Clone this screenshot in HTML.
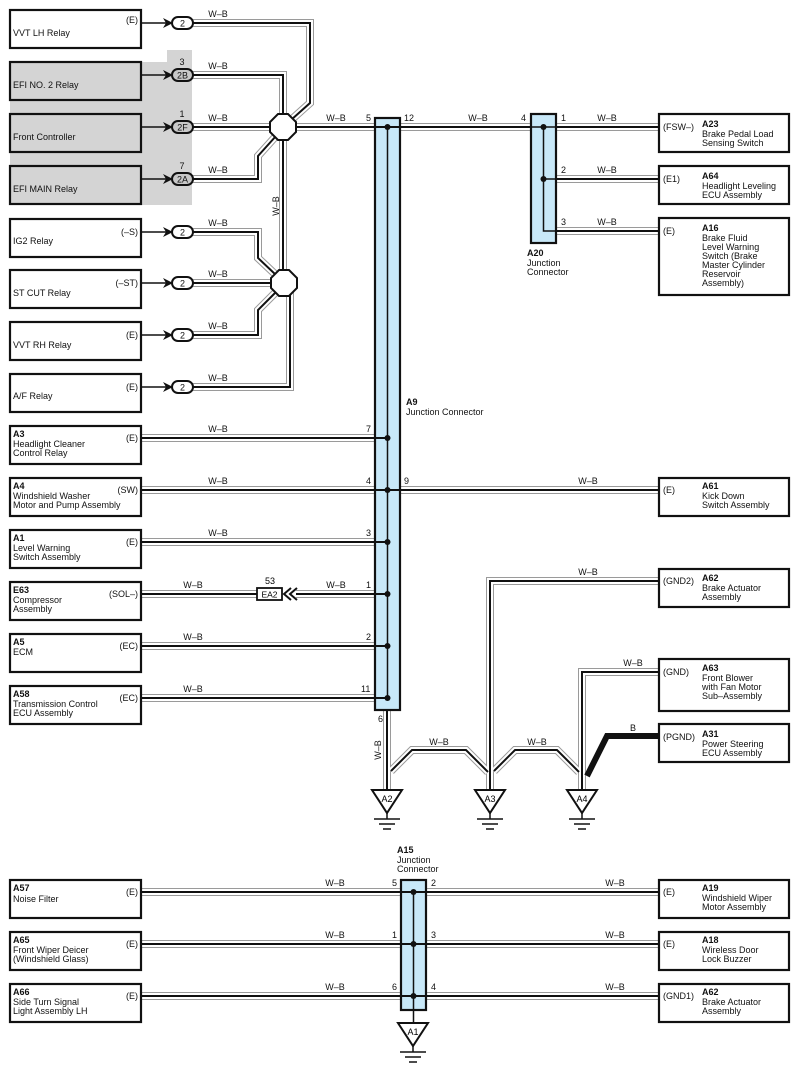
<!DOCTYPE html>
<html><head><meta charset="utf-8"><style>
html,body{margin:0;padding:0;background:#fff;}
svg{display:block;font-family:"Liberation Sans",Arial,sans-serif;font-size:9px;}
.g{fill:none;stroke:#9a9a9a;stroke-width:8;}
.w{fill:none;stroke:#fff;stroke-width:6;}
.k{fill:none;stroke:#111;stroke-width:2;}
.box{fill:#fff;stroke:#111;stroke-width:2.2;}
.gbox{fill:#d4d4d4;stroke:#111;stroke-width:2.2;}
.jc{fill:#c8e8f8;stroke:#111;stroke-width:2.2;}
b{font-weight:bold}
.bd{font-weight:bold}
</style></head><body>
<svg width="800" height="1076" viewBox="0 0 800 1076" xmlns="http://www.w3.org/2000/svg">
<defs>
<path id="p1" d="M192,23 H310 V103 L291,120"/>
<path id="p2" d="M192,75 H283 V115"/>
<path id="p3" d="M192,127 H375"/>
<path id="p4" d="M192,179 H258 V156 L276,136"/>
<path id="p5" d="M283,140 V271"/>
<path id="p6" d="M192,232 H258 V258 L276,275"/>
<path id="p7" d="M192,283 H272"/>
<path id="p8" d="M192,335 H258 V310 L276,292"/>
<path id="p9" d="M192,387 H290 V292"/>
<path id="p10" d="M400,127 H531"/>
<path id="p11" d="M556,127 H659"/>
<path id="p12" d="M556,179 H659"/>
<path id="p13" d="M556,231 H659"/>
<path id="q1" d="M141,438 H375"/>
<path id="q2" d="M141,490 H375"/>
<path id="q3" d="M141,542 H375"/>
<path id="q4" d="M141,594 H258"/>
<path id="q5" d="M296,594 H375"/>
<path id="q6" d="M141,646 H375"/>
<path id="q7" d="M141,698 H375"/>
<path id="q8" d="M400,490 H659"/>
<path id="q9" d="M387,710 V790"/>
<path id="q10" d="M659,581 H490 V790"/>
<path id="q11" d="M659,672 H582 V790"/>
<path id="q12" d="M391,771 L412,750 H466 L488,772"/>
<path id="q13" d="M494,771 L515,750 H557 L579,772"/>
<path id="r1" d="M141,892 H401"/>
<path id="r2" d="M141,944 H401"/>
<path id="r3" d="M141,996 H401"/>
<path id="r4" d="M426,892 H659"/>
<path id="r5" d="M426,944 H659"/>
<path id="r6" d="M426,996 H659"/>
</defs>

<!-- gray background region -->
<polygon points="167,50 192,50 192,205 10,205 10,62 167,62" fill="#d4d4d4"/>

<!-- wires -->
<g class="g"><use href="#p1"/><use href="#p2"/><use href="#p3"/><use href="#p4"/><use href="#p5"/><use href="#p6"/><use href="#p7"/><use href="#p8"/><use href="#p9"/><use href="#p10"/><use href="#p11"/><use href="#p12"/><use href="#p13"/><use href="#q1"/><use href="#q2"/><use href="#q3"/><use href="#q4"/><use href="#q5"/><use href="#q6"/><use href="#q7"/><use href="#q8"/><use href="#q9"/><use href="#q10"/><use href="#q11"/><use href="#q12"/><use href="#q13"/><use href="#r1"/><use href="#r2"/><use href="#r3"/><use href="#r4"/><use href="#r5"/><use href="#r6"/></g>
<g class="w"><use href="#p1"/><use href="#p2"/><use href="#p3"/><use href="#p4"/><use href="#p5"/><use href="#p6"/><use href="#p7"/><use href="#p8"/><use href="#p9"/><use href="#p10"/><use href="#p11"/><use href="#p12"/><use href="#p13"/><use href="#q1"/><use href="#q2"/><use href="#q3"/><use href="#q4"/><use href="#q5"/><use href="#q6"/><use href="#q7"/><use href="#q8"/><use href="#q9"/><use href="#q10"/><use href="#q11"/><use href="#q12"/><use href="#q13"/><use href="#r1"/><use href="#r2"/><use href="#r3"/><use href="#r4"/><use href="#r5"/><use href="#r6"/></g>
<g class="k"><use href="#p1"/><use href="#p2"/><use href="#p3"/><use href="#p4"/><use href="#p5"/><use href="#p6"/><use href="#p7"/><use href="#p8"/><use href="#p9"/><use href="#p10"/><use href="#p11"/><use href="#p12"/><use href="#p13"/><use href="#q1"/><use href="#q2"/><use href="#q3"/><use href="#q4"/><use href="#q5"/><use href="#q6"/><use href="#q7"/><use href="#q8"/><use href="#q9"/><use href="#q10"/><use href="#q11"/><use href="#q12"/><use href="#q13"/><use href="#r1"/><use href="#r2"/><use href="#r3"/><use href="#r4"/><use href="#r5"/><use href="#r6"/></g>

<!-- thick B wire -->
<path d="M659,736 H607 L587,776" fill="none" stroke="#111" stroke-width="6"/>

<!-- octagons -->
<polygon points="278,114 288,114 296,122 296,132 288,140 278,140 270,132 270,122" fill="#fff" stroke="#111" stroke-width="2"/>
<polygon points="279,270 289,270 297,278 297,288 289,296 279,296 271,288 271,278" fill="#fff" stroke="#111" stroke-width="2"/>

<!-- left top boxes -->
<g>
<rect class="box" x="10" y="10" width="131" height="38"/>
<rect class="gbox" x="10" y="62" width="131" height="38"/>
<rect class="gbox" x="10" y="114" width="131" height="38"/>
<rect class="gbox" x="10" y="166" width="131" height="38"/>
<rect class="box" x="10" y="219" width="131" height="38"/>
<rect class="box" x="10" y="270" width="131" height="38"/>
<rect class="box" x="10" y="322" width="131" height="38"/>
<rect class="box" x="10" y="374" width="131" height="38"/>
<rect class="box" x="10" y="426" width="131" height="38"/>
<rect class="box" x="10" y="478" width="131" height="38"/>
<rect class="box" x="10" y="530" width="131" height="38"/>
<rect class="box" x="10" y="582" width="131" height="38"/>
<rect class="box" x="10" y="634" width="131" height="38"/>
<rect class="box" x="10" y="686" width="131" height="38"/>
<rect class="box" x="10" y="880" width="131" height="38"/>
<rect class="box" x="10" y="932" width="131" height="38"/>
<rect class="box" x="10" y="984" width="131" height="38"/>
</g>
<!-- right boxes -->
<g>
<rect class="box" x="659" y="114" width="130" height="38"/>
<rect class="box" x="659" y="166" width="130" height="38"/>
<rect class="box" x="659" y="218" width="130" height="77"/>
<rect class="box" x="659" y="478" width="130" height="38"/>
<rect class="box" x="659" y="569" width="130" height="38"/>
<rect class="box" x="659" y="659" width="130" height="52"/>
<rect class="box" x="659" y="724" width="130" height="38"/>
<rect class="box" x="659" y="880" width="130" height="38"/>
<rect class="box" x="659" y="932" width="130" height="38"/>
<rect class="box" x="659" y="984" width="130" height="38"/>
</g>

<!-- relay connector lines + chevrons + ovals -->
<g stroke="#111" stroke-width="1.5" fill="none">
<path d="M141,23H166M141,75H166M141,127H166M141,179H166M141,232H166M141,283H166M141,335H166M141,387H166"/>
</g>
<g fill="#111">
<path d="M163,18 L173,23 L163,28 L166,23Z"/>
<path d="M163,70 L173,75 L163,80 L166,75Z"/>
<path d="M163,122 L173,127 L163,132 L166,127Z"/>
<path d="M163,174 L173,179 L163,184 L166,179Z"/>
<path d="M163,227 L173,232 L163,237 L166,232Z"/>
<path d="M163,278 L173,283 L163,288 L166,283Z"/>
<path d="M163,330 L173,335 L163,340 L166,335Z"/>
<path d="M163,382 L173,387 L163,392 L166,387Z"/>
</g>
<g fill="#fff" stroke="#111" stroke-width="2">
<rect x="172" y="17" width="21" height="12" rx="6"/>
<rect x="172" y="69" width="21" height="12" rx="6" fill="#c8c8c8"/>
<rect x="172" y="121" width="21" height="12" rx="6" fill="#c8c8c8"/>
<rect x="172" y="173" width="21" height="12" rx="6" fill="#c8c8c8"/>
<rect x="172" y="226" width="21" height="12" rx="6"/>
<rect x="172" y="277" width="21" height="12" rx="6"/>
<rect x="172" y="329" width="21" height="12" rx="6"/>
<rect x="172" y="381" width="21" height="12" rx="6"/>
</g>
<g text-anchor="middle" font-size="9" fill="#111">
<text x="182.5" y="26.5">2</text><text x="182.5" y="78.5">2B</text><text x="182.5" y="130.5">2F</text><text x="182.5" y="182.5">2A</text>
<text x="182.5" y="235.5">2</text><text x="182.5" y="286.5">2</text><text x="182.5" y="338.5">2</text><text x="182.5" y="390.5">2</text>
<text x="182" y="65">3</text><text x="182" y="117">1</text><text x="182" y="169">7</text>
</g>

<!-- EA2 connector -->
<rect x="257" y="588" width="25" height="12" fill="#fff" stroke="#111" stroke-width="1.8"/>
<text x="269.5" y="597.5" text-anchor="middle" font-size="8.5">EA2</text>
<text x="270" y="584" text-anchor="middle">53</text>
<path d="M291,588 L284,594 L291,600 M297,588 L290,594 L297,600" fill="none" stroke="#111" stroke-width="2"/>

<!-- junction connectors -->
<rect class="jc" x="375" y="118" width="25" height="592"/>
<line x1="387.5" y1="127" x2="387.5" y2="698" stroke="#111" stroke-width="1.5"/>
<line x1="375" y1="127" x2="400" y2="127" stroke="#111" stroke-width="2"/>
<line x1="375" y1="490" x2="400" y2="490" stroke="#111" stroke-width="2"/>
<g stroke="#111" stroke-width="2"><line x1="375" y1="438" x2="387" y2="438"/><line x1="375" y1="542" x2="387" y2="542"/><line x1="375" y1="594" x2="387" y2="594"/><line x1="375" y1="646" x2="387" y2="646"/><line x1="375" y1="698" x2="387" y2="698"/></g>
<g fill="#111"><circle cx="387.5" cy="127" r="3"/><circle cx="387.5" cy="438" r="3"/><circle cx="387.5" cy="490" r="3"/><circle cx="387.5" cy="542" r="3"/><circle cx="387.5" cy="594" r="3"/><circle cx="387.5" cy="646" r="3"/><circle cx="387.5" cy="698" r="3"/></g>

<rect class="jc" x="531" y="114" width="25" height="129"/>
<path d="M543.5,127 V231 H556 M531,127 H556 M543.5,179 H556" fill="none" stroke="#111" stroke-width="1.5"/>
<g fill="#111"><circle cx="543.5" cy="127" r="3"/><circle cx="543.5" cy="179" r="3"/></g>

<rect class="jc" x="401" y="880" width="25" height="130"/>
<line x1="413.5" y1="892" x2="413.5" y2="1023" stroke="#111" stroke-width="1.5"/>
<g stroke="#111" stroke-width="2"><line x1="401" y1="892" x2="426" y2="892"/><line x1="401" y1="944" x2="426" y2="944"/><line x1="401" y1="996" x2="426" y2="996"/></g>
<g fill="#111"><circle cx="413.5" cy="892" r="3"/><circle cx="413.5" cy="944" r="3"/><circle cx="413.5" cy="996" r="3"/></g>

<!-- grounds -->
<g fill="#fff" stroke="#111" stroke-width="2">
<polygon points="372,790 402,790 387,813"/>
<polygon points="475,790 505,790 490,813"/>
<polygon points="567,790 597,790 582,813"/>
<polygon points="398,1023 428,1023 413,1046"/>
</g>
<g stroke="#111" stroke-width="1.5">
<path d="M387,813V819M374,819H400M379,824H395M383,829H391"/>
<path d="M490,813V819M477,819H503M482,824H498M486,829H494"/>
<path d="M582,813V819M569,819H595M574,824H590M578,829H586"/>
<path d="M413,1046V1052M400,1052H426M405,1057H421M409,1062H417"/>
</g>
<g text-anchor="middle" font-size="9">
<text x="387" y="802">A2</text><text x="490" y="802">A3</text><text x="582" y="802">A4</text><text x="413" y="1035">A1</text>
</g>

<!-- box texts left -->
<g font-size="9" fill="#111">
<text x="13" y="36">VVT LH Relay</text>
<text x="13" y="88">EFI NO. 2 Relay</text>
<text x="13" y="140">Front Controller</text>
<text x="13" y="192">EFI MAIN Relay</text>
<text x="13" y="244">IG2 Relay</text>
<text x="13" y="296">ST CUT Relay</text>
<text x="13" y="348">VVT RH Relay</text>
<text x="13" y="399">A/F Relay</text>
<text x="13" y="437" class="bd">A3</text><text x="13" y="447">Headlight Cleaner</text><text x="13" y="456">Control Relay</text>
<text x="13" y="489" class="bd">A4</text><text x="13" y="499">Windshield Washer</text><text x="13" y="508">Motor and Pump Assembly</text>
<text x="13" y="541" class="bd">A1</text><text x="13" y="551">Level Warning</text><text x="13" y="560">Switch Assembly</text>
<text x="13" y="593" class="bd">E63</text><text x="13" y="603">Compressor</text><text x="13" y="612">Assembly</text>
<text x="13" y="645" class="bd">A5</text><text x="13" y="655">ECM</text>
<text x="13" y="697" class="bd">A58</text><text x="13" y="707">Transmission Control</text><text x="13" y="716">ECU Assembly</text>
<text x="13" y="891" class="bd">A57</text><text x="13" y="902">Noise Filter</text>
<text x="13" y="943" class="bd">A65</text><text x="13" y="953">Front Wiper Deicer</text><text x="13" y="962">(Windshield Glass)</text>
<text x="13" y="995" class="bd">A66</text><text x="13" y="1005">Side Turn Signal</text><text x="13" y="1014">Light Assembly LH</text>
</g>
<g font-size="9" fill="#111" text-anchor="end">
<text x="138" y="23">(E)</text><text x="138" y="235">(–S)</text><text x="138" y="286">(–ST)</text><text x="138" y="338">(E)</text><text x="138" y="390">(E)</text>
<text x="138" y="441">(E)</text><text x="138" y="493">(SW)</text><text x="138" y="545">(E)</text><text x="138" y="597">(SOL–)</text><text x="138" y="649">(EC)</text><text x="138" y="701">(EC)</text>
<text x="138" y="895">(E)</text><text x="138" y="947">(E)</text><text x="138" y="999">(E)</text>
</g>

<!-- box texts right -->
<g font-size="9" fill="#111">
<text x="663" y="130">(FSW–)</text><text x="702" y="127" class="bd">A23</text><text x="702" y="137">Brake Pedal Load</text><text x="702" y="146">Sensing Switch</text>
<text x="663" y="182">(E1)</text><text x="702" y="179" class="bd">A64</text><text x="702" y="189">Headlight Leveling</text><text x="702" y="198">ECU Assembly</text>
<text x="663" y="234">(E)</text><text x="702" y="231" class="bd">A16</text><text x="702" y="241">Brake Fluid</text><text x="702" y="250">Level Warning</text><text x="702" y="259">Switch (Brake</text><text x="702" y="268">Master Cylinder</text><text x="702" y="277">Reservoir</text><text x="702" y="286">Assembly)</text>
<text x="663" y="493">(E)</text><text x="702" y="489" class="bd">A61</text><text x="702" y="499">Kick Down</text><text x="702" y="508">Switch Assembly</text>
<text x="663" y="584">(GND2)</text><text x="702" y="581" class="bd">A62</text><text x="702" y="591">Brake Actuator</text><text x="702" y="600">Assembly</text>
<text x="663" y="675">(GND)</text><text x="702" y="671" class="bd">A63</text><text x="702" y="681">Front Blower</text><text x="702" y="690">with Fan Motor</text><text x="702" y="699">Sub–Assembly</text>
<text x="663" y="740">(PGND)</text><text x="702" y="737" class="bd">A31</text><text x="702" y="747">Power Steering</text><text x="702" y="756">ECU Assembly</text>
<text x="663" y="895">(E)</text><text x="702" y="891" class="bd">A19</text><text x="702" y="901">Windshield Wiper</text><text x="702" y="910">Motor Assembly</text>
<text x="663" y="947">(E)</text><text x="702" y="943" class="bd">A18</text><text x="702" y="953">Wireless Door</text><text x="702" y="962">Lock Buzzer</text>
<text x="663" y="999">(GND1)</text><text x="702" y="995" class="bd">A62</text><text x="702" y="1005">Brake Actuator</text><text x="702" y="1014">Assembly</text>
</g>

<!-- junction labels -->
<g font-size="9" fill="#111">
<text x="406" y="405" class="bd">A9</text><text x="406" y="415">Junction Connector</text>
<text x="527" y="256" class="bd">A20</text><text x="527" y="266">Junction</text><text x="527" y="275">Connector</text>
<text x="397" y="853" class="bd">A15</text><text x="397" y="863">Junction</text><text x="397" y="872">Connector</text>
</g>

<!-- W-B labels -->
<g font-size="9" fill="#111" text-anchor="middle">
<text x="218" y="17">W–B</text><text x="218" y="69">W–B</text><text x="218" y="121">W–B</text><text x="218" y="173">W–B</text>
<text x="218" y="226">W–B</text><text x="218" y="277">W–B</text><text x="218" y="329">W–B</text><text x="218" y="381">W–B</text>
<text x="336" y="121">W–B</text><text x="478" y="121">W–B</text><text x="607" y="121">W–B</text><text x="607" y="173">W–B</text><text x="607" y="225">W–B</text>
<text x="218" y="432">W–B</text><text x="218" y="484">W–B</text><text x="218" y="536">W–B</text><text x="193" y="588">W–B</text><text x="336" y="588">W–B</text><text x="193" y="640">W–B</text><text x="193" y="692">W–B</text>
<text x="588" y="484">W–B</text><text x="588" y="575">W–B</text><text x="633" y="666">W–B</text><text x="633" y="731">B</text>
<text x="439" y="745">W–B</text><text x="537" y="745">W–B</text>
<text x="335" y="886">W–B</text><text x="335" y="938">W–B</text><text x="335" y="990">W–B</text>
<text x="615" y="886">W–B</text><text x="615" y="938">W–B</text><text x="615" y="990">W–B</text>
<text transform="translate(279,206) rotate(-90)">W–B</text>
<text transform="translate(381,750) rotate(-90)">W–B</text>
</g>
<!-- pin numbers -->
<g font-size="9" fill="#111">
<text x="366" y="121">5</text><text x="404" y="121">12</text><text x="521" y="121">4</text>
<text x="561" y="121">1</text><text x="561" y="173">2</text><text x="561" y="225">3</text>
<text x="366" y="432">7</text><text x="366" y="484">4</text><text x="404" y="484">9</text><text x="366" y="536">3</text><text x="366" y="588">1</text><text x="366" y="640">2</text><text x="361" y="692">11</text>
<text x="378" y="722">6</text>
<text x="392" y="886">5</text><text x="431" y="886">2</text><text x="392" y="938">1</text><text x="431" y="938">3</text><text x="392" y="990">6</text><text x="431" y="990">4</text>
</g>
</svg>
</body></html>
